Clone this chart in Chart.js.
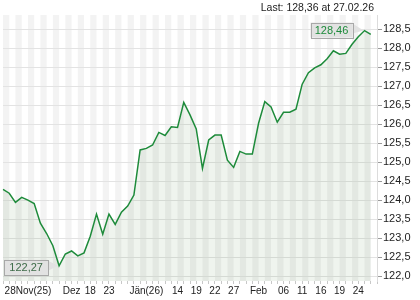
<!DOCTYPE html>
<html>
<head>
<meta charset="utf-8">
<script src="https://cdn.jsdelivr.net/npm/chart.js@4.4.1/dist/chart.umd.min.js"></script>
<style>
  html, body { margin: 0; padding: 0; background: #fff; }
  #wrap { position: relative; width: 420px; height: 300px; }
</style>
</head>
<body>
<div id="wrap"><canvas id="price-chart"></canvas></div>
<script>
"use strict";

// daily closes
const prices = [
  124.28, 124.18, 123.94, 124.07, 124.00, 123.91, 123.39, 123.12, 122.80, 122.27,
  122.58, 122.66, 122.53, 122.61, 123.05, 123.63, 123.10, 123.63, 123.36, 123.68,
  123.84, 124.13, 125.32, 125.36, 125.45, 125.78, 125.70, 125.93, 125.91, 126.57,
  126.24, 125.87, 124.83, 125.58, 125.71, 125.71, 125.05, 124.86, 125.28, 125.21,
  125.21, 126.02, 126.59, 126.45, 126.05, 126.31, 126.31, 126.39, 127.05, 127.35,
  127.48, 127.56, 127.72, 127.93, 127.84, 127.86, 128.10, 128.30, 128.46, 128.36,
];
const lastDate = "27.02.26";

// x labels and the slot they sit on
const tickIdx = [4, 11, 14, 17, 23, 28, 31, 34, 37, 41, 45, 48, 51, 54, 57];
const tickText = ["28Nov(25)", "Dez", "18", "23", "Jän(26)", "14", "19", "22", "27", "Feb", "06", "11", "16", "19", "24"];

const yTicks = [122.0, 122.5, 123.0, 123.5, 124.0, 124.5, 125.0, 125.5, 126.0, 126.5, 127.0, 127.5, 128.0, 128.5];
const yMin = 121.87;
const yMax = 128.87;

const fmt = (v, d) => v.toFixed(d).replace(".", ",");

// one slot more than points, so the line stops short of the right edge
const labels = Array.from({ length: prices.length + 1 }, () => "");
tickIdx.forEach((idx, i) => {
  labels[idx] = tickText[i];
});

const stripes = {
  id: "stripes",
  beforeDraw(chart) {
    const { ctx, chartArea: a, scales: { x } } = chart;
    ctx.save();
    ctx.fillStyle = "#f3f3f3";
    for (let i = 0; i < labels.length - 1; i += 2) {
      const x0 = x.getPixelForValue(i);
      const x1 = x.getPixelForValue(i + 1);
      ctx.fillRect(x0, a.top, x1 - x0, a.bottom - a.top);
    }
    ctx.restore();
  },
};

function drawTag(ctx, text, px, py, right, top, w, h, color) {
  ctx.save();
  ctx.fillStyle = "#e2e2e2";
  ctx.strokeStyle = "#a8a8a8";
  ctx.lineWidth = 1;
  // pointer
  ctx.beginPath();
  ctx.moveTo(right, top + 1);
  ctx.lineTo(px - 1, py);
  ctx.lineTo(right, top + h - 4);
  ctx.closePath();
  ctx.fill();
  ctx.fillRect(right - w, top, w, h);
  ctx.strokeRect(Math.round(right - w) + 0.5, Math.round(top) + 0.5, w, h);
  ctx.fillStyle = color;
  ctx.font = "11px 'Liberation Sans', Arial, sans-serif";
  ctx.textAlign = "center";
  ctx.textBaseline = "middle";
  ctx.fillText(text, right - w / 2, top + h / 2 + 1);
  ctx.restore();
}

const tags = {
  id: "tags",
  afterDatasetsDraw(chart) {
    const { ctx, scales: { x, y } } = chart;
    const maxV = Math.max(...prices);
    const minV = Math.min(...prices);
    const iMax = prices.indexOf(maxV);
    const iMin = prices.indexOf(minV);

    const mx = x.getPixelForValue(iMax);
    const my = y.getPixelForValue(maxV);
    drawTag(ctx, fmt(maxV, 2), mx, my, mx - 12, my - 8, 42, 15, "#1d8a3a");

    const nx = x.getPixelForValue(iMin);
    const ny = y.getPixelForValue(minV);
    drawTag(ctx, fmt(minV, 2), nx, ny, nx - 11, ny - 6, 44, 15, "#3d6b48");

    // header
    ctx.save();
    ctx.fillStyle = "#222";
    ctx.font = "10.5px 'Liberation Sans', Arial, sans-serif";
    ctx.textAlign = "right";
    ctx.textBaseline = "alphabetic";
    ctx.fillText("Last: " + fmt(prices[prices.length - 1], 2) + " at " + lastDate, chart.chartArea.right - 3, 11);
    ctx.restore();
  },
};

new Chart(document.getElementById("price-chart"), {
  type: "line",
  data: {
    labels: labels,
    datasets: [
      {
        data: prices,
        borderColor: "#1e8b3b",
        borderWidth: 1.5,
        backgroundColor: "rgba(40, 110, 30, 0.075)",
        fill: "start",
        pointRadius: 0,
        tension: 0,
      },
    ],
  },
  options: {
    responsive: true,
    maintainAspectRatio: false,
    animation: false,
    layout: { padding: { top: 15, left: 3, right: 0, bottom: 0 } },
    plugins: { legend: { display: false }, tooltip: { enabled: false } },
    scales: {
      x: {
        offset: false,
        afterFit: (s) => { s.height = 19; },
        grid: { drawOnChartArea: false, tickLength: 3, tickColor: "#c8c8c8" },
        border: { display: false },
        ticks: {
          autoSkip: false,
          maxRotation: 0,
          minRotation: 0,
          padding: 1,
          color: "#222",
          font: { family: "'Liberation Sans', Arial, sans-serif", size: 10 },
        },
      },
      y: {
        position: "right",
        min: yMin,
        max: yMax,
        afterFit: (s) => { s.width = 43; },
        afterBuildTicks: (s) => { s.ticks = yTicks.map((v) => ({ value: v })); },
        grid: { color: "#e3e3e3", tickLength: 5, tickColor: "#9a9a9a" },
        border: { color: "#dcdcdc" },
        ticks: {
          padding: 1,
          color: "#222",
          font: { family: "'Liberation Sans', Arial, sans-serif", size: 11 },
          callback: (v) => fmt(v, 1),
        },
      },
    },
  },
  plugins: [stripes, tags],
});
</script>
</body>
</html>
